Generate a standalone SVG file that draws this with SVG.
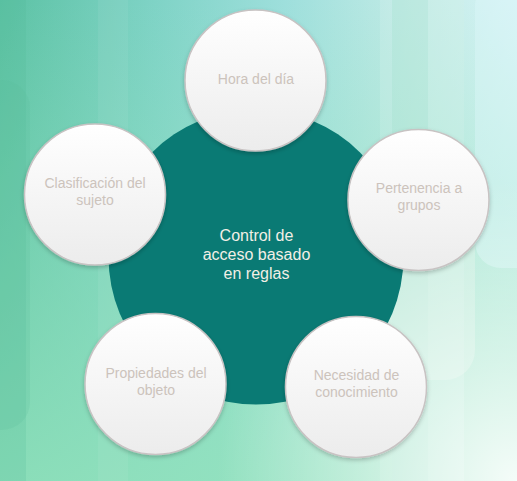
<svg xmlns="http://www.w3.org/2000/svg" width="517" height="481" viewBox="0 0 517 481">
  <defs>
    <linearGradient id="bg" x1="0" y1="0" x2="1" y2="0">
      <stop offset="0" stop-color="#5cc2a4"/>
      <stop offset="0.3" stop-color="#7fd3c6"/>
      <stop offset="0.55" stop-color="#9edfdc"/>
      <stop offset="0.8" stop-color="#c2ebe6"/>
      <stop offset="1" stop-color="#d6f3f6"/>
    </linearGradient>
    <linearGradient id="bgLow" x1="0" y1="0" x2="0" y2="1">
      <stop offset="0" stop-color="#92e2bc" stop-opacity="0"/>
      <stop offset="1" stop-color="#92e2bc" stop-opacity="0.85"/>
    </linearGradient>
    <radialGradient id="glow" cx="517" cy="481" r="300" gradientUnits="userSpaceOnUse">
      <stop offset="0" stop-color="#ffffff" stop-opacity="0.9"/>
      <stop offset="1" stop-color="#ffffff" stop-opacity="0"/>
    </radialGradient>
    <linearGradient id="ball" x1="0" y1="0" x2="0" y2="1">
      <stop offset="0" stop-color="#ffffff"/>
      <stop offset="1" stop-color="#ececec"/>
    </linearGradient>
    <filter id="sh" x="-20%" y="-20%" width="140%" height="140%">
      <feDropShadow dx="0" dy="2" stdDeviation="2" flood-color="#000000" flood-opacity="0.22"/>
    </filter>
    <style>
      .ball { fill: url(#ball); stroke: #c8c3c3; stroke-width: 1.5; filter: url(#sh); }
      .lbl { font-family: "Liberation Sans", Arial, sans-serif; font-size: 14px; fill: #ccc3bc; text-anchor: middle; }
      .ctr { font-family: "Liberation Sans", Arial, sans-serif; font-size: 16px; fill: #f2efe6; text-anchor: middle; }
    </style>
  </defs>

  <g id="background">
    <rect width="517" height="481" fill="url(#bg)"/>
    <rect width="517" height="481" fill="url(#bgLow)"/>
    <rect x="0" y="0" width="26" height="481" fill="#4fb898" opacity="0.2"/>
    <rect x="98" y="0" width="30" height="481" fill="#ffffff" opacity="0.06"/>
    <rect x="380" y="0" width="12" height="481" fill="#ffffff" opacity="0.12"/>
    <rect x="392" y="0" width="36" height="481" fill="#b5e6d8" opacity="0.4"/>
    <rect x="428" y="0" width="36" height="481" fill="#d2f0e8" opacity="0.35"/>
    <rect x="-30" y="80" width="60" height="350" rx="28" fill="#58bc9c" opacity="0.2"/>
    <rect x="475" y="-20" width="80" height="288" rx="26" fill="#dcf6f8" opacity="0.45"/>
    <rect x="385" y="200" width="90" height="180" rx="30" fill="#dcf2e6" opacity="0.45"/>
    <rect width="517" height="481" fill="url(#glow)"/>
  </g>

  <g id="connectors"></g>

  <g id="center">
    <circle cx="256" cy="257" r="147.5" fill="#0a7a74"/>
    <text class="ctr" x="256.5" y="241">Control de</text>
    <text class="ctr" x="256.5" y="260">acceso basado</text>
    <text class="ctr" x="256.5" y="279">en reglas</text>
  </g>

  <g id="node-hora">
    <circle class="ball" cx="255.5" cy="80.5" r="70.5"/>
    <text class="lbl" x="256" y="83.5">Hora del día</text>
  </g>

  <g id="node-clasificacion">
    <circle class="ball" cx="95" cy="194.5" r="70.5"/>
    <text class="lbl" x="95" y="187.5">Clasificación del</text>
    <text class="lbl" x="95" y="204.5">sujeto</text>
  </g>

  <g id="node-pertenencia">
    <circle class="ball" cx="418.5" cy="200" r="70.5"/>
    <text class="lbl" x="419" y="192.5">Pertenencia a</text>
    <text class="lbl" x="419" y="209.5">grupos</text>
  </g>

  <g id="node-propiedades">
    <circle class="ball" cx="155.5" cy="384" r="70.5"/>
    <text class="lbl" x="156" y="377.5">Propiedades del</text>
    <text class="lbl" x="156" y="394.5">objeto</text>
  </g>

  <g id="node-necesidad">
    <circle class="ball" cx="356" cy="387" r="70.5"/>
    <text class="lbl" x="356.5" y="380">Necesidad de</text>
    <text class="lbl" x="356.5" y="397">conocimiento</text>
  </g>
</svg>
